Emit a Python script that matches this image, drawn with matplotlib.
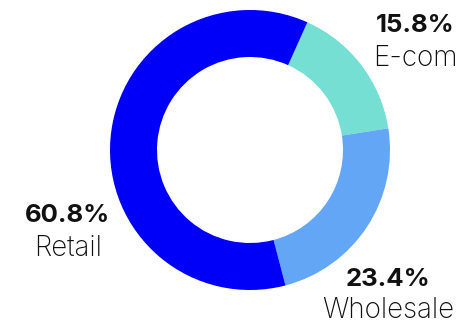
import matplotlib
matplotlib.use("Agg")
import matplotlib.pyplot as plt

labels = ["E-com", "Wholesale", "Retail"]
shares = [15.8, 23.4, 60.8]
colors = ["#76DFD3", "#63A6F5", "#0000FA"]

fig = plt.figure(figsize=(4.67, 3.26), dpi=100)
ax = fig.add_axes([0, 0, 1, 1])
ax.set_xlim(0, 467)
ax.set_ylim(0, 326)
ax.set_aspect("equal")
ax.axis("off")

ax.pie(shares, colors=colors, startangle=65.8, counterclock=False,
       radius=140, center=(250, 176),
       wedgeprops=dict(width=47, linewidth=0))
ax.set_xlim(0, 467)
ax.set_ylim(0, 326)

label_pos = [(415, 300), (388, 47), (68, 110)]
for lab, val, (x, y) in zip(labels, shares, label_pos):
    ax.text(x, y, f"{val:.1f}%", ha="center", va="center", fontsize=18.5,
            fontweight="bold", family="Inter", color="#111111")
    ax.text(x, y - 32, lab, ha="center", va="center", fontsize=20,
            fontweight="light", family="Inter", color="#111111")

fig.savefig("out.png", dpi=100)
